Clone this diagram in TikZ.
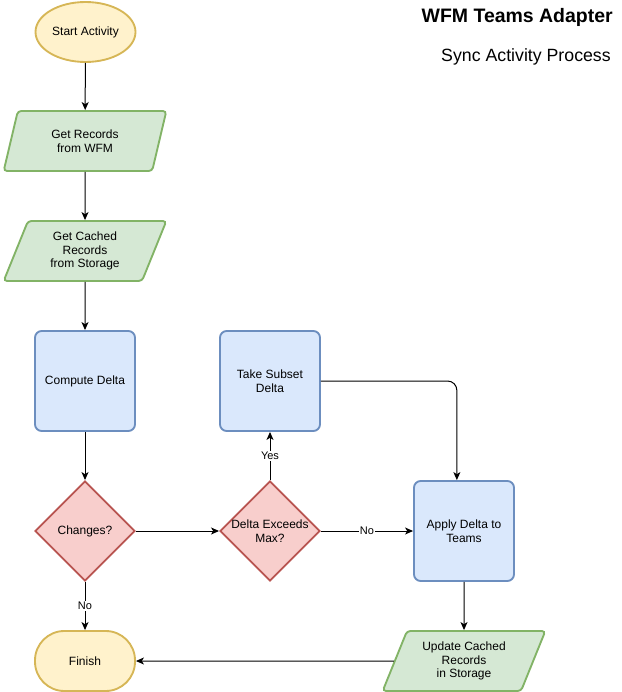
\documentclass[tikz,border=0pt]{standalone}
\usepackage{fontspec}
\setmainfont{Liberation Sans}
\usetikzlibrary{shapes.geometric,arrows.meta,calc}
\definecolor{ylwfill}{HTML}{FFF2CC}\definecolor{ylwline}{HTML}{D6B656}
\definecolor{grnfill}{HTML}{D5E8D4}\definecolor{grnline}{HTML}{82B366}
\definecolor{blufill}{HTML}{DAE8FC}\definecolor{bluline}{HTML}{6C8EBF}
\definecolor{redfill}{HTML}{F8CECC}\definecolor{redline}{HTML}{B85450}
\tikzset{
  base/.style={font=\fontsize{9pt}{10.4pt}\selectfont, align=center, line width=1.4pt, inner sep=0pt, text=black},
  terminal/.style={base, ellipse, draw=ylwline, fill=ylwfill, minimum width=75pt, minimum height=45pt},
  stadium/.style={base, rectangle, rounded corners=22pt, draw=ylwline, fill=ylwfill, minimum width=75pt, minimum height=45pt},
  iobox/.style={base, trapezium, trapezium left angle=58, trapezium right angle=122, trapezium stretches body, draw=grnline, fill=grnfill, minimum width=122pt, minimum height=45pt, rounded corners=2.5pt},
  procbox/.style={base, rectangle, rounded corners=5pt, draw=bluline, fill=blufill, minimum width=75pt, minimum height=75pt},
  decision/.style={base, diamond, draw=redline, fill=redfill, minimum width=75pt, minimum height=75pt, aspect=1},
  conn/.style={line width=0.75pt, -{Stealth[length=6pt,width=5.25pt,inset=1.6pt]}},
  lbl/.style={font=\fontsize{8.25pt}{9pt}\selectfont, fill=white, inner sep=0.8pt, text=black},
  heading/.style={anchor=base east, inner sep=0pt, text=black}
}
\begin{document}
\begin{tikzpicture}[x=0.75pt, y=-0.75pt]
\useasboundingbox (0,0) rectangle (621,692);
\node[terminal] (start) at (85.5,32) {Start Activity};
\node[iobox] (rec) at (85,141) {Get Records\\from WFM};
\node[iobox] (cached) at (85,251) {Get Cached\\Records\\from Storage};
\node[procbox] (compute) at (85,381) {Compute Delta};
\node[decision] (changes) at (85,531) {Changes?};
\node[decision] (exceeds) at (270,531) {Delta Exceeds\\Max?};
\node[procbox] (subset) at (270,381) {Take Subset\\Delta};
\node[procbox] (apply) at (464,531) {Apply Delta to\\Teams};
\node[iobox] (update) at (464,661) {Update Cached\\Records\\in Storage};
\node[stadium] (finish) at (85,661) {Finish};
\node[heading, font=\fontsize{14.6pt}{16pt}\selectfont\bfseries] (title) at (613,23) {WFM Teams Adapter};
\node[heading, font=\fontsize{13.3pt}{15pt}\selectfont] (subtitle) at (611,61) {Sync Activity Process};
\coordinate (applyin) at ($(apply.north west)!0.43!(apply.north east)$);

\draw[conn] (start) -- (rec);
\draw[conn] (rec) -- (cached);
\draw[conn] (cached) -- (compute);
\draw[conn] (compute) -- (changes);
\draw[conn] (changes) -- (exceeds);
\draw[conn] (changes) -- node[lbl] {No} (finish);
\draw[conn] (exceeds) -- node[lbl] {Yes} (subset);
\draw[conn] (exceeds) -- node[lbl] {No} (apply);
\draw[conn, rounded corners=7pt] (subset.east) -| (applyin);
\draw[conn] (apply) -- (update);
\draw[conn] (update.west) -- (finish.east);
\end{tikzpicture}
\end{document}
